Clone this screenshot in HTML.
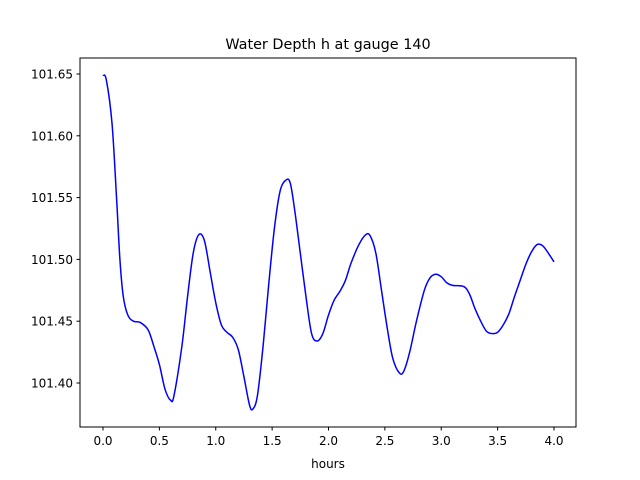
<!DOCTYPE html>
<html><head><meta charset="utf-8"><style>
body{margin:0;background:#fff;}
svg{display:block;font-family:"DejaVu Sans","Liberation Sans",sans-serif;}
</style></head><body>
<svg id="chart" width="640" height="480">
<rect x="0" y="0" width="640" height="480" fill="#fff"/>
<text x="328" y="49" font-size="14.4" text-anchor="middle">Water Depth h at gauge 140</text>
<text x="328" y="468" font-size="12" text-anchor="middle">hours</text>
<g id="ticks"></g>
<path id="line" fill="none" stroke="#0000ff" stroke-width="1.5"/>
<rect x="80" y="58" width="496" height="369" fill="none" stroke="#000" stroke-width="1"/>
</svg>
<script>
const hours=[0,0.03,0.08,0.12,0.15,0.18,0.22,0.27,0.33,0.40,0.45,0.50,0.55,0.6,0.63,0.7,0.75,0.8,0.85,0.9,0.95,1.0,1.05,1.1,1.15,1.2,1.25,1.3,1.33,1.37,1.42,1.47,1.52,1.57,1.62,1.66,1.7,1.75,1.8,1.85,1.9,1.95,2.0,2.05,2.1,2.15,2.2,2.27,2.33,2.37,2.42,2.47,2.52,2.57,2.63,2.67,2.72,2.78,2.85,2.9,2.95,3.0,3.05,3.1,3.2,3.25,3.3,3.35,3.4,3.45,3.5,3.55,3.6,3.65,3.7,3.75,3.8,3.85,3.9,3.95,4.0];
const depth=[101.649,101.645,101.61,101.55,101.50,101.47,101.455,101.45,101.449,101.443,101.43,101.415,101.395,101.386,101.39,101.43,101.47,101.505,101.52,101.515,101.49,101.465,101.447,101.441,101.437,101.427,101.405,101.382,101.379,101.39,101.43,101.48,101.525,101.555,101.564,101.562,101.54,101.505,101.47,101.44,101.434,101.44,101.455,101.467,101.474,101.483,101.497,101.512,101.52,101.519,101.505,101.475,101.445,101.42,101.408,101.41,101.425,101.45,101.475,101.485,101.488,101.486,101.481,101.479,101.478,101.472,101.46,101.45,101.442,101.44,101.441,101.447,101.456,101.47,101.483,101.496,101.506,101.512,101.511,101.505,101.498];
const xTicks=[0,0.5,1.0,1.5,2.0,2.5,3.0,3.5,4.0];
const yTicks=[101.40,101.45,101.50,101.55,101.60,101.65];
const X=v=>103+v*112.75;
const Y=v=>383-(v-101.40)*1236;
const NS="http://www.w3.org/2000/svg";
const g=document.getElementById('ticks');
function mk(t,a){const e=document.createElementNS(NS,t);for(const k in a)e.setAttribute(k,a[k]);g.appendChild(e);return e;}
xTicks.forEach(v=>{
 const l=mk('line',{x1:X(v),x2:X(v),y1:427,y2:430.5,stroke:'#000'});
 
 
 const t=mk('text',{x:X(v),y:445,'font-size':12,'text-anchor':'middle'});
 t.textContent=v.toFixed(1);
 
 
});
yTicks.forEach(v=>{
 const l=mk('line',{x1:76.5,x2:80,y1:Y(v),y2:Y(v),stroke:'#000'});
 
 
 const t=mk('text',{x:73,y:Y(v)+4.5,'font-size':12,'text-anchor':'end'});
 t.textContent=v.toFixed(2);
 
 
});
const P=hours.map((h,i)=>[X(h),Y(depth[i])]);
let d='M'+P[0][0]+','+P[0][1];
for(let i=0;i<P.length-1;i++){
 const p0=P[Math.max(0,i-1)],p1=P[i],p2=P[i+1],p3=P[Math.min(P.length-1,i+2)];
 const c1=[p1[0]+(p2[0]-p0[0])/6,p1[1]+(p2[1]-p0[1])/6];
 const c2=[p2[0]-(p3[0]-p1[0])/6,p2[1]-(p3[1]-p1[1])/6];
 d+=`C${c1[0]},${c1[1]} ${c2[0]},${c2[1]} ${p2[0]},${p2[1]}`;
}
document.getElementById('line').setAttribute('d',d);
</script>
</body></html>
